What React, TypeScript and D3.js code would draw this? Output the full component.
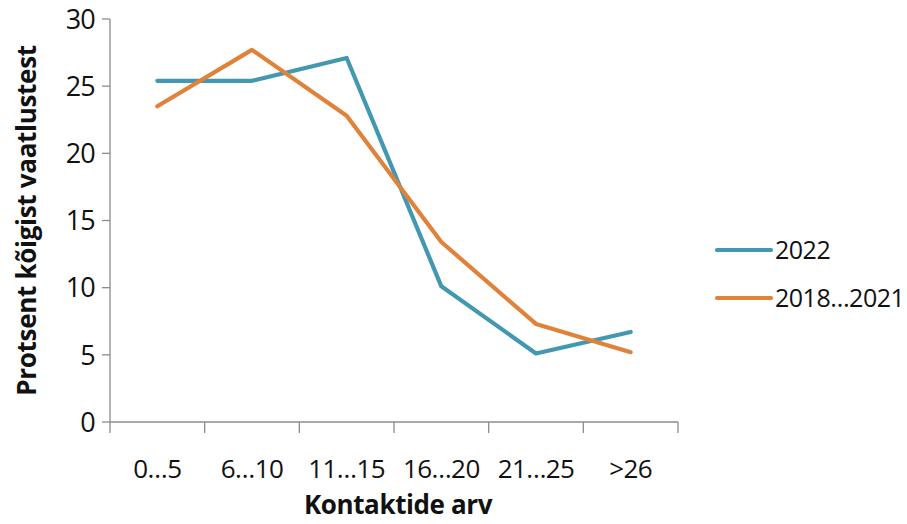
import React, { useEffect, useRef } from "react";
import * as d3 from "d3";

const categories = ["0…5", "6…10", "11…15", "16…20", "21…25", ">26"];
const series2022 = [25.4, 25.4, 27.1, 10.1, 5.1, 6.7];
const series2018 = [23.5, 27.7, 22.8, 13.4, 7.3, 5.2];
const yTicks = [0, 5, 10, 15, 20, 25, 30];
const seriesNames = ["2022", "2018…2021"];
const colors = ["#4298B0", "#E0823A"];

const FONT = "'Open Sans', sans-serif";

function App() {
  const chartRef = useRef(null);

  useEffect(() => {
    const svg = d3.select(chartRef.current);
    svg.selectAll("*").remove();

    const left = 110;
    const right = 678;
    const top = 19;
    const bottom = 422;

    const x = d3.scaleBand().domain(categories).range([left, right]);
    const y = d3.scaleLinear().domain([0, 30]).range([bottom, top]);

    // Y axis
    const yAxis = svg.append("g").attr("transform", `translate(${left},0)`);
    yAxis
      .append("line")
      .attr("y1", y(0))
      .attr("y2", y(30))
      .attr("stroke", "#8c8c8c")
      .attr("stroke-width", 1.3);
    yTicks.forEach((t) => {
      yAxis
        .append("line")
        .attr("x1", -8)
        .attr("x2", 0)
        .attr("y1", y(t))
        .attr("y2", y(t))
        .attr("stroke", "#8c8c8c")
        .attr("stroke-width", 1.3);
      yAxis
        .append("text")
        .attr("x", -15)
        .attr("y", y(t))
        .attr("dy", "0.36em")
        .attr("text-anchor", "end")
        .attr("font-family", FONT)
        .attr("font-size", 27)
        .attr("letter-spacing", -0.8)
        .attr("fill", "#111")
        .text(t);
    });

    // X axis
    const xAxis = svg.append("g").attr("transform", `translate(0,${bottom})`);
    xAxis
      .append("line")
      .attr("x1", left)
      .attr("x2", right)
      .attr("stroke", "#8c8c8c")
      .attr("stroke-width", 1.3);
    const edges = categories.map((c) => x(c) as number).concat([right]);
    edges.forEach((e) => {
      xAxis
        .append("line")
        .attr("x1", e)
        .attr("x2", e)
        .attr("y1", 0)
        .attr("y2", 11)
        .attr("stroke", "#8c8c8c")
        .attr("stroke-width", 1.3);
    });
    categories.forEach((c) => {
      xAxis
        .append("text")
        .attr("x", (x(c) as number) + x.bandwidth() / 2)
        .attr("y", 56)
        .attr("text-anchor", "middle")
        .attr("font-family", FONT)
        .attr("font-size", 26)
        .attr("letter-spacing", -0.6)
        .attr("fill", "#111")
        .text(c);
    });

    // Axis titles
    svg
      .append("text")
      .attr("x", (left + right) / 2 + 4)
      .attr("y", 514)
      .attr("text-anchor", "middle")
      .attr("font-family", FONT)
      .attr("font-weight", "bold")
      .attr("font-size", 26)
      .attr("letter-spacing", -0.4)
      .attr("fill", "#111")
      .text("Kontaktide arv");

    svg
      .append("text")
      .attr("transform", `translate(36,${(top + bottom) / 2 + 0}) rotate(-90)`)
      .attr("text-anchor", "middle")
      .attr("font-family", FONT)
      .attr("font-weight", "bold")
      .attr("font-size", 26)
      .attr("letter-spacing", -0.3)
      .attr("fill", "#111")
      .text("Protsent kõigist vaatlustest");

    // Lines
    const line = d3
      .line<number>()
      .x((d, i) => (x(categories[i]) as number) + x.bandwidth() / 2)
      .y((d) => y(d));

    [series2022, series2018].forEach((s, i) => {
      svg
        .append("path")
        .datum(s)
        .attr("d", line as any)
        .attr("fill", "none")
        .attr("stroke", colors[i])
        .attr("stroke-width", 4.2)
        .attr("stroke-linejoin", "round")
        .attr("stroke-linecap", "round");
    });

    // Legend
    const legend = svg.append("g").attr("transform", "translate(717,250)");
    seriesNames.forEach((name, i) => {
      const g = legend.append("g").attr("transform", `translate(0,${i * 48})`);
      g.append("line")
        .attr("x1", 0)
        .attr("x2", 54)
        .attr("stroke", colors[i])
        .attr("stroke-width", 4.2)
        .attr("stroke-linecap", "round");
      g.append("text")
        .attr("x", 58)
        .attr("dy", "0.36em")
        .attr("font-family", FONT)
        .attr("font-size", 25)
        .attr("letter-spacing", -0.5)
        .attr("fill", "#111")
        .text(name);
    });
  }, []);

  return (
    <svg
      ref={chartRef}
      width={907}
      height={524}
      style={{ position: "absolute", left: 0, top: 0, background: "#fff" }}
    />
  );
}

export default App;
